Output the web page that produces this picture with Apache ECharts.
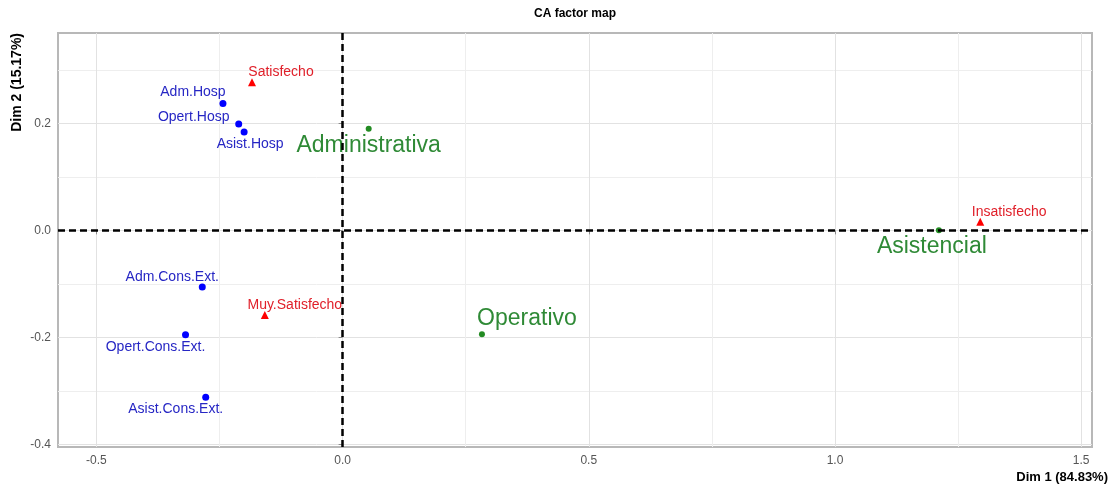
<!DOCTYPE html>
<html>
<head>
<meta charset="utf-8">
<script src="https://cdn.jsdelivr.net/npm/echarts@6/dist/echarts.min.js"></script>
<style>html,body{margin:0;padding:0;background:#fff}#c{width:1114px;height:485px}</style>
</head>
<body>
<div id="c"></div>
<script>
// ---- data ----
const rowNames = ['Adm.Hosp', 'Opert.Hosp', 'Asist.Hosp', 'Adm.Cons.Ext.', 'Opert.Cons.Ext.', 'Asist.Cons.Ext.'];
const rowDim1 = [-0.243, -0.211, -0.200, -0.285, -0.319, -0.278];
const rowDim2 = [0.237, 0.199, 0.184, -0.106, -0.195, -0.312];
const colNames = ['Satisfecho', 'Muy.Satisfecho', 'Insatisfecho'];
const colDim1 = [-0.184, -0.158, 1.295];
const colDim2 = [0.277, -0.158, 0.016];
const supNames = ['Administrativa', 'Operativo', 'Asistencial'];
const supDim1 = [0.053, 0.283, 1.211];
const supDim2 = [0.190, -0.194, 0.000];
const xTicks = [-0.5, 0, 0.5, 1.0, 1.5];
const xMinorTicks = [-0.25, 0.25, 0.75, 1.25];
const yTicks = [-0.4, -0.2, 0, 0.2];
const yMinorTicks = [-0.3, -0.1, 0.1, 0.3];
const X_MIN = -0.578, X_MAX = 1.522;
const Y_MIN = -0.405, Y_MAX = 0.369;

// ---- styling (label placement, not data) ----
const labelOffsets = {
  'Satisfecho': [29, -10], 'Adm.Hosp': [-30, -11], 'Opert.Hosp': [-45, -7], 'Asist.Hosp': [6, 12],
  'Administrativa': [0, 17], 'Adm.Cons.Ext.': [-30, -10], 'Muy.Satisfecho': [30, -10],
  'Opert.Cons.Ext.': [-30, 12], 'Asist.Cons.Ext.': [-30, 12], 'Operativo': [45, -15],
  'Asistencial': [-7, 16], 'Insatisfecho': [29, -10]
};
const FONT = 'Liberation Sans, Arial, sans-serif';

function build(names, xs, ys) {
  return names.map((n, i) => ({
    name: n, value: [xs[i], ys[i]],
    label: { offset: labelOffsets[n] }
  }));
}

const chart = echarts.init(document.getElementById('c'), null, { renderer: 'canvas' });
const axisCommon = (min, max) => ({ type: 'value', min: min, max: max });

chart.setOption({
  animation: false,
  backgroundColor: '#fff',
  grid: { left: 58, right: 22, top: 33, bottom: 38, show: true, borderColor: '#b8b8b8', borderWidth: 2, backgroundColor: '#fff' },
  graphic: [
    { type: 'text', x: 575, y: 14, style: { text: 'CA factor map', font: 'bold 12px ' + FONT, fill: '#000', align: 'center', verticalAlign: 'middle' } },
    { type: 'text', x: 1108, y: 477, style: { text: 'Dim 1 (84.83%)', font: 'bold 13px ' + FONT, fill: '#000', align: 'right', verticalAlign: 'middle' } },
    { type: 'text', x: 17, y: 33, rotation: Math.PI / 2, style: { text: 'Dim 2 (15.17%)', font: 'bold 14px ' + FONT, fill: '#000', align: 'right', verticalAlign: 'middle' } }
  ],
  xAxis: [
    Object.assign(axisCommon(X_MIN, X_MAX), {
      position: 'bottom',
      axisLine: { show: false },
      axisTick: { show: true, customValues: xTicks, length: 4, lineStyle: { color: '#8c8c8c', width: 1 } },
      axisLabel: { customValues: xTicks, formatter: v => v.toFixed(1), color: '#555', fontSize: 12, fontFamily: FONT, margin: 8 },
      splitLine: { show: true, lineStyle: { color: '#e2e2e2', width: 1 } }
    }),
    Object.assign(axisCommon(X_MIN, X_MAX), {
      position: 'bottom',
      axisLine: { show: false },
      axisTick: { show: false, customValues: xMinorTicks },
      axisLabel: { show: false, customValues: xMinorTicks },
      splitLine: { show: true, lineStyle: { color: '#eeeeee', width: 1 } }
    })
  ],
  yAxis: [
    Object.assign(axisCommon(Y_MIN, Y_MAX), {
      position: 'left',
      axisLine: { show: false },
      axisTick: { show: true, customValues: yTicks, length: 4, lineStyle: { color: '#8c8c8c', width: 1 } },
      axisLabel: { customValues: yTicks, formatter: v => v.toFixed(1), color: '#555', fontSize: 12, fontFamily: FONT, margin: 7 },
      splitLine: { show: true, lineStyle: { color: '#e2e2e2', width: 1 } }
    }),
    Object.assign(axisCommon(Y_MIN, Y_MAX), {
      position: 'left',
      axisLine: { show: false },
      axisTick: { show: false, customValues: yMinorTicks },
      axisLabel: { show: false, customValues: yMinorTicks },
      splitLine: { show: true, lineStyle: { color: '#eeeeee', width: 1 } }
    })
  ],
  series: [
    {
      type: 'scatter', name: 'rows', xAxisIndex: 0, yAxisIndex: 0,
      data: build(rowNames, rowDim1, rowDim2),
      symbol: 'circle', symbolSize: 7,
      itemStyle: { color: '#0000ff', opacity: 1 },
      label: { show: true, position: 'inside', formatter: p => p.name, color: '#2626c4', fontSize: 14, fontFamily: FONT },
      z: 3
    },
    {
      type: 'scatter', name: 'cols', xAxisIndex: 0, yAxisIndex: 0,
      data: build(colNames, colDim1, colDim2),
      symbol: 'triangle', symbolSize: 8,
      itemStyle: { color: '#ff0000', opacity: 1 },
      label: { show: true, position: 'inside', formatter: p => p.name, color: '#e0202a', fontSize: 14, fontFamily: FONT },
      z: 3
    },
    {
      type: 'scatter', name: 'sup', xAxisIndex: 0, yAxisIndex: 0,
      data: build(supNames, supDim1, supDim2),
      symbol: 'circle', symbolSize: 6,
      itemStyle: { color: '#228b22', opacity: 1 },
      label: { show: true, position: 'inside', formatter: p => p.name, color: '#2f8a36', fontSize: 23, fontFamily: FONT },
      z: 3,
      markLine: {
        silent: true, symbol: 'none', animation: false,
        label: { show: false },
        lineStyle: { color: '#000', type: [7, 4], width: 2.5, opacity: 1 },
        data: [{ xAxis: 0 }, { yAxis: 0 }]
      }
    }
  ]
});
</script>
</body>
</html>
